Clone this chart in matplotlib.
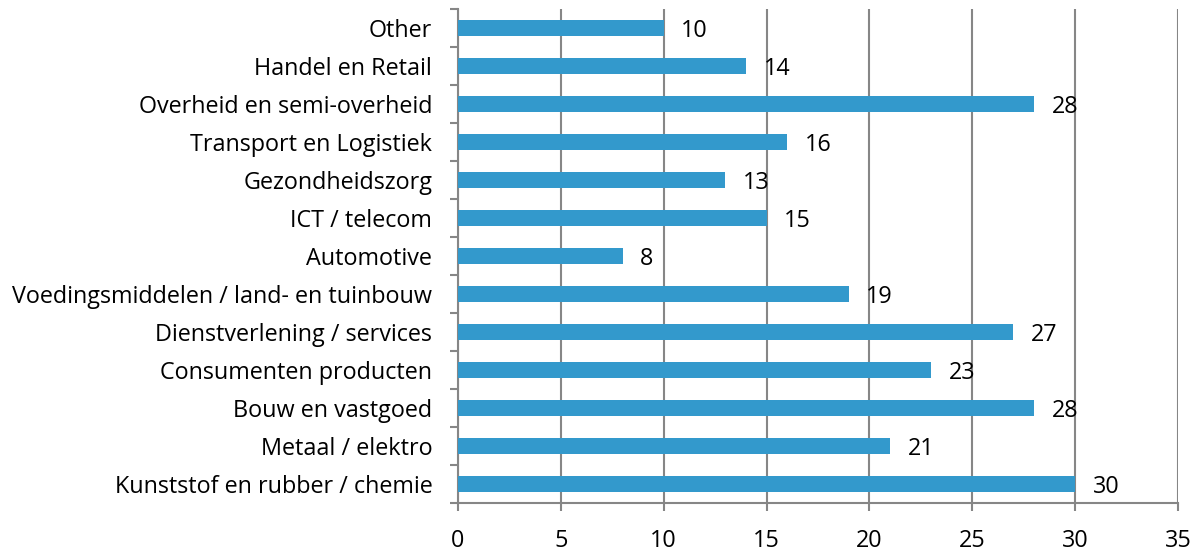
import matplotlib

matplotlib.use("Agg")
import matplotlib.pyplot as plt
import numpy as np

# categories listed bottom -> top
categories = [
    "Kunststof en rubber / chemie",
    "Metaal / elektro",
    "Bouw en vastgoed",
    "Consumenten producten",
    "Dienstverlening / services",
    "Voedingsmiddelen / land- en tuinbouw",
    "Automotive",
    "ICT / telecom",
    "Gezondheidszorg",
    "Transport en Logistiek",
    "Overheid en semi-overheid",
    "Handel en Retail",
    "Other",
]
values = [30, 21, 28, 23, 27, 19, 8, 15, 13, 16, 28, 14, 10]
x_ticks = [0, 5, 10, 15, 20, 25, 30, 35]

plt.rcParams["font.family"] = ["Open Sans", "DejaVu Sans"]
GRID = "#868686"
FS = 16.8

fig = plt.figure(figsize=(12.01, 5.51), dpi=100)
ax = fig.add_axes([0.3814, 0.0871, 0.5994, 0.8966])

y = np.arange(len(categories))
ax.barh(y, values, height=0.4, color="#3399CC", zorder=3)

for yi, v in zip(y, values):
    ax.text(v + 0.85, yi - 0.07, str(v), va="center", ha="left", fontsize=FS, zorder=4)

ax.set_xlim(0, 35)
ax.set_ylim(-0.5, len(categories) - 0.5)
ax.set_xticks(x_ticks)
ax.set_xticklabels([str(t) for t in x_ticks], fontsize=FS)
ax.tick_params(axis="x", length=6, width=1.5, color=GRID, pad=12.5, direction="out")

ax.set_yticks(y)
ax.set_yticklabels(categories, fontsize=FS)
ax.tick_params(axis="y", which="major", length=0, pad=18.5)
ax.set_yticks(np.arange(-0.5, len(categories), 1.0), minor=True)
ax.tick_params(axis="y", which="minor", length=6, width=1.5, color=GRID, direction="out")

ax.xaxis.grid(True, color=GRID, linewidth=1.5, zorder=0)
for s in ["top", "right"]:
    ax.spines[s].set_visible(False)
for s in ["left", "bottom"]:
    ax.spines[s].set_color(GRID)
    ax.spines[s].set_linewidth(1.5)

fig.savefig("out.png", dpi=100)
